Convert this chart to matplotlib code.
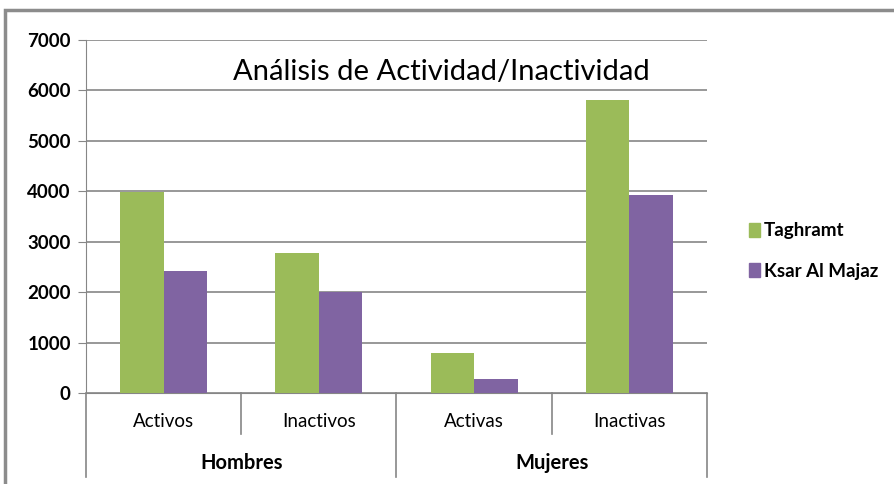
import numpy as np
import matplotlib
matplotlib.use("Agg")
import matplotlib.pyplot as plt
from matplotlib.patches import Rectangle, Patch

plt.rcParams['font.family'] = ['Lato', 'DejaVu Sans']

# datos
categorias = ["Activos", "Inactivos", "Activas", "Inactivas"]
grupos = ["Hombres", "Mujeres"]
taghramt = [3980, 2780, 795, 5810]
ksar = [2420, 2000, 285, 3920]
series = ["Taghramt", "Ksar Al Majaz"]
colores = ["#9BBB59", "#8064A2"]
gris = "#868686"

fig = plt.figure(figsize=(8.95, 4.84), dpi=100)
ax = fig.add_axes([86/895, 1 - 393/484, (707 - 86)/895, (393 - 40)/484])

x = np.arange(len(categorias))
ancho = 0.28
ax.bar(x - ancho/2, taghramt, ancho, color=colores[0], zorder=3)
ax.bar(x + ancho/2, ksar, ancho, color=colores[1], zorder=3)

ax.set_xlim(-0.5, len(categorias) - 0.5)
ax.set_ylim(0, 7000)
ax.set_yticks(np.arange(0, 7001, 1000))
ax.yaxis.grid(True, color=gris, linewidth=1.2, zorder=0)
ax.set_xticks([])
for s in ["top", "right"]:
    ax.spines[s].set_visible(False)
ax.spines["left"].set_color(gris)
ax.spines["bottom"].set_color(gris)
ax.tick_params(axis="y", length=6, color=gris, labelsize=13.5, pad=5)
for t in ax.get_yticklabels():
    t.set_fontweight("bold")

# eje de categorías en dos niveles
trans = ax.get_xaxis_transform()
for b in np.arange(-0.5, len(categorias), 1):
    largo = -0.238 if b in (-0.5, 1.5, 3.5) else -0.116
    ax.plot([b, b], [0, largo], color=gris, lw=1.2, transform=trans, clip_on=False)
for i, c in enumerate(categorias):
    ax.text(i, -0.08, c, transform=trans, ha="center", va="center", fontsize=13.5)
for j, g in enumerate(grupos):
    ax.text(2*j + 0.5, -0.198, g, transform=trans, ha="center", va="center",
            fontsize=14.5, fontweight="bold")

ax.text(0.572, 0.91, "Análisis de Actividad/Inactividad", transform=ax.transAxes,
        ha="center", va="center", fontsize=21)

handles = [Patch(color=c, label=l) for c, l in zip(colores, series)]
leg = fig.legend(handles=handles, loc="center left", bbox_to_anchor=(732/895, 1 - 251/484),
                 frameon=False, handlelength=0.6, handleheight=0.8, handletextpad=0.2,
                 labelspacing=1.25, prop={"size": 13.5, "weight": "bold"})

# marco exterior
fig.patches.append(Rectangle((5/895, -0.1), 1.2, 1 - 10/484 + 0.1, transform=fig.transFigure,
                             fill=False, edgecolor="#8c8c8c", lw=2.5))

fig.savefig("out.png", dpi=100)
